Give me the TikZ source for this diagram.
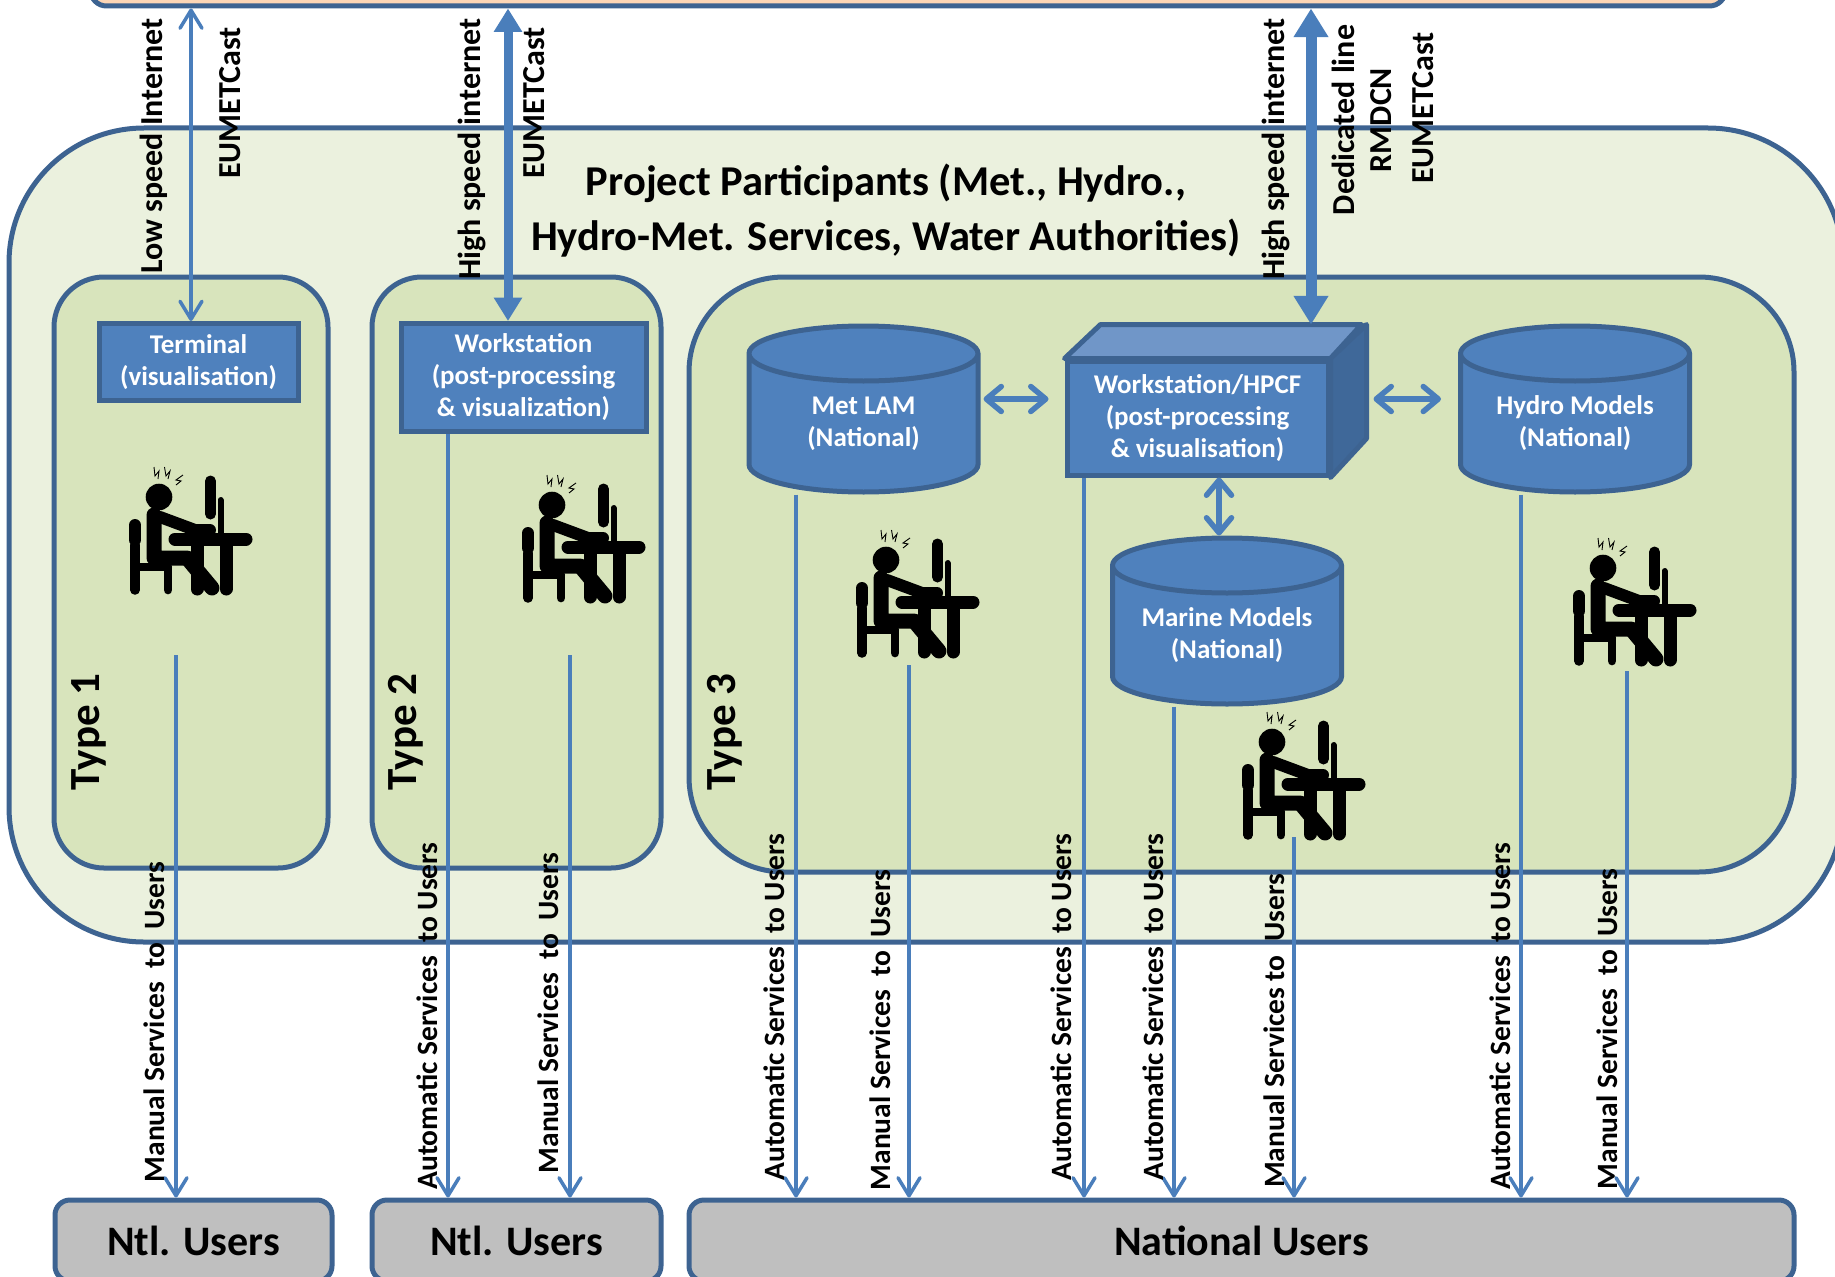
\documentclass[tikz,border=0pt]{standalone}
\usepackage{fontspec}
\setmainfont{Carlito}
\usetikzlibrary{arrows.meta, shapes.geometric}
\definecolor{edgeblue}{HTML}{3D6391}
\definecolor{fillblue}{HTML}{4F81BD}
\definecolor{lineblue}{HTML}{4A7EBB}
\definecolor{paleleaf}{RGB}{235,241,222}
\definecolor{leaf}{RGB}{216,228,188}
\definecolor{peach}{RGB}{252,213,181}
\definecolor{cubetop}{RGB}{112,150,200}
\definecolor{cubeside}{RGB}{63,104,153}
\newcommand{\dbtext}[2]{\makebox[100pt]{\begin{tabular}{@{}c@{}}#1\\#2\end{tabular}}}
\tikzset{
    partbox/.style={draw=edgeblue, line width=5pt, rounded corners=#1, inner sep=0pt},
    procbox/.style={draw=edgeblue, fill=fillblue, line width=5pt, text=white, align=center, inner sep=0pt,
        font=\fontsize{27}{32}\selectfont\bfseries},
    dbase/.style={procbox, cylinder, shape border rotate=90, aspect=0.55, minimum width=229pt, minimum height=166pt},
    usersbox/.style={partbox=15pt, fill=black!25, minimum height=81pt, font=\fontsize{42}{46}\selectfont\bfseries},
    toplabel/.style={rotate=90, inner sep=0pt, font=\fontsize{32}{36}\selectfont\bfseries},
    sidelabel/.style={rotate=90, inner sep=0pt, font=\fontsize{29.5}{34}\selectfont\bfseries},
    typelabel/.style={rotate=90, inner sep=0pt, font=\fontsize{43}{48}\selectfont\bfseries},
    thinline/.style={draw=lineblue, line width=3.5pt, -{Straight Barb[length=18pt,width=22pt,round]}},
    thinboth/.style={thinline, {Straight Barb[length=18pt,width=22pt,round]}-{Straight Barb[length=18pt,width=22pt,round]}},
    thickboth/.style={draw=lineblue, line width=#1pt, {Triangle[length=2.6*#1pt,width=3*#1pt]}-{Triangle[length=2.6*#1pt,width=3*#1pt]}},
    shortboth/.style={draw=lineblue, line width=5.5pt, {Straight Barb[length=15pt,width=25pt,round]}-{Straight Barb[length=15pt,width=25pt,round]}},
    deskman/.pic={
        \fill (59,57) circle (13.3);
        \draw[line width=0.9pt] (54,27) -- (55,36) -- (59,31) -- (58,39);
        \draw[line width=0.9pt] (64.5,27) -- (66,36) -- (70,31) -- (68,39);
        \draw[line width=0.9pt] (83,35) -- (76,40) -- (81,41) -- (76,45);
        \draw[line width=12pt, line cap=round] (35,85) -- (35,100);
        \draw[line width=9.5pt, line cap=round] (35,105) -- (35,150);
        \draw[line width=8pt, line cap=round] (35,127) -- (68,127);
        \draw[line width=8.7pt, line cap=round] (68,127) -- (68,150);
        \draw[line width=15pt, line cap=round, line join=round] (54,75) -- (54,118) -- (87,118) -- (112,148);
        \draw[line width=12pt, line cap=round, line join=round] (60,77) -- (95,90) -- (110,90);
        \draw[line width=13pt, line cap=round] (75,99) -- (146,99);
        \draw[line width=13pt, line cap=round] (97,103) -- (97,149);
        \draw[line width=13pt, line cap=round] (126,103) -- (126,149);
        \draw[line width=11pt, line cap=round] (110.5,41) -- (110.5,74);
        \draw[line width=6pt, line cap=round] (120.5,60) -- (120.5,97);
    }
}
\begin{document}
\begin{tikzpicture}[x=1pt, y=-1pt]
    \useasboundingbox (0,0) rectangle (1835,1276);

    \node[partbox=135pt, fill=paleleaf, minimum width=1834pt, minimum height=814pt] (participants) at (926,535) {};
    \node[partbox=16pt, fill=peach, minimum width=1635pt, minimum height=52pt] (centre) at (908,-20) {};
    \node[partbox=50pt, fill=leaf, minimum width=274pt, minimum height=591pt] (type1) at (191,572.5) {};
    \node[partbox=50pt, fill=leaf, minimum width=289pt, minimum height=591pt] (type2) at (516.5,572.5) {};
    \node[partbox=95pt, fill=leaf, minimum width=1105pt, minimum height=595pt] (type3) at (1241.5,574.5) {};

    \node[usersbox, minimum width=277pt] (users1) at (193.5,1240.5) {Ntl. Users};
    \node[usersbox, minimum width=289pt] (users2) at (516.5,1240.5) {Ntl. Users};
    \node[usersbox, minimum width=1105pt] (users3) at (1241.5,1240.5) {National Users};

    \node[align=center, font=\fontsize{42.5}{55}\selectfont\bfseries] (title) at (886,211) {Project Participants (Met., Hydro.,\\Hydro-Met. Services, Water Authorities)};

    \node[typelabel] (typetext1) at (89,732) {Type 1};
    \node[typelabel] (typetext2) at (406,732) {Type 2};
    \node[typelabel] (typetext3) at (725,732) {Type 3};

    \node[procbox, minimum width=199pt, minimum height=77pt] (terminal) at (198.5,362) {Terminal\\(visualisation)};
    \node[procbox, minimum width=245pt, minimum height=108pt] (workstation) at (523.5,377.5) {Workstation\\(post-processing\\\& visualization)};

    \node[procbox, minimum width=261pt, minimum height=114pt] (hpcf) at (1197.5,418) {Workstation/HPCF\\(post-processing\\\& visualisation)};
    \draw[draw=edgeblue, line width=5pt, line join=round, fill=cubetop] (hpcf.north west) -- ++(36,-34) -- ++(261,0) -- (hpcf.north east) -- cycle;
    \draw[draw=edgeblue, line width=5pt, line join=round, fill=cubeside] (hpcf.north east) -- ++(36,-34) -- ++(0,114) -- (hpcf.south east) -- cycle;

    \node[dbase] (metlam) at (863.5,424) {\dbtext{Met LAM}{(National)}};
    \node[dbase] (hydro) at (1575,424) {\dbtext{Hydro Models}{(National)}};
    \node[dbase] (marine) at (1227,636) {\dbtext{Marine Models}{(National)}};

    \pic at (100,440) {deskman};
    \pic at (493,448) {deskman};
    \pic at (827,503) {deskman};
    \pic at (1213,685) {deskman};
    \pic at (1544,511) {deskman};

    \coordinate (manual1) at (176,655);
    \coordinate (manual2) at (570,655);
    \coordinate (manual3) at (909,665);
    \coordinate (manual4) at (1294,837);
    \coordinate (manual5) at (1627,671);

    \draw[thinboth] (centre.south -| 191,0) -- (terminal.north -| 191,0);
    \draw[thickboth=9] (centre.south -| 508,0) -- (workstation.north -| 508,0);
    \draw[thickboth=11] (centre.south -| 1311,0) -- ([yshift=34pt]hpcf.north -| 1311,0);
    \draw[shortboth] ([xshift=3pt]metlam.east |- 0,399) -- ([xshift=-16pt]hpcf.west |- 0,399);
    \draw[shortboth] ([xshift=43pt]hpcf.east |- 0,399) -- ([xshift=-17pt]hydro.west |- 0,399);
    \draw[shortboth] (hpcf.south -| 1219,0) -- (marine.north -| 1219,0);

    \draw[thinline] (manual1) -- (users1.north -| manual1);
    \draw[thinline] (workstation.south -| 448,0) -- (users2.north -| 448,0);
    \draw[thinline] (manual2) -- (users2.north -| manual2);
    \draw[thinline] (metlam.south -| 796,0) -- (users3.north -| 796,0);
    \draw[thinline] (manual3) -- (users3.north -| manual3);
    \draw[thinline] (hpcf.south -| 1084,0) -- (users3.north -| 1084,0);
    \draw[thinline] (marine.south -| 1174,0) -- (users3.north -| 1174,0);
    \draw[thinline] (manual4) -- (users3.north -| manual4);
    \draw[thinline] (hydro.south -| 1521,0) -- (users3.north -| 1521,0);
    \draw[thinline] (manual5) -- (users3.north -| manual5);

    \node[toplabel] (link1) at (154,146) {Low speed Internet};
    \node[toplabel] (cast1) at (230,103) {EUMETCast};
    \node[toplabel] (link2) at (472,149) {High speed internet};
    \node[toplabel] (cast2) at (534,103) {EUMETCast};
    \node[toplabel] (link3) at (1276,149) {High speed internet};
    \node[toplabel] (line3) at (1343,120) {Dedicated line};
    \node[toplabel] (rmdcn3) at (1381,120) {RMDCN};
    \node[toplabel] (cast3) at (1423,108) {EUMETCast};

    \node[sidelabel] (service1) at (154,1022) {Manual Services\ \ to\ \ Users};
    \node[sidelabel] (service2) at (427,1016) {Automatic Services\ \ to Users};
    \node[sidelabel] (service3) at (548,1013) {Manual Services\ \ to\ \ Users};
    \node[sidelabel] (service4) at (774,1007) {Automatic Services\ \ to Users};
    \node[sidelabel] (service5) at (880,1030) {Manual Services\ \ to\ \ Users};
    \node[sidelabel] (service6) at (1061,1007) {Automatic Services\ \ to Users};
    \node[sidelabel] (service7) at (1153,1007) {Automatic Services\ \ to Users};
    \node[sidelabel] (service8) at (1274,1031) {Manual Services to\ \ Users};
    \node[sidelabel] (service9) at (1500,1016) {Automatic Services\ \ to Users};
    \node[sidelabel] (service10) at (1607,1029) {Manual Services\ \ to\ \ Users};
\end{tikzpicture}
\end{document}
